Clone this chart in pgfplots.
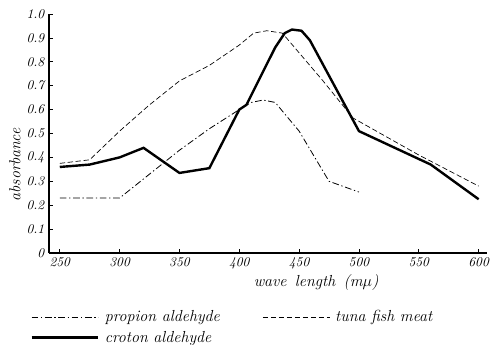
\documentclass[border=0pt]{standalone}
\usepackage{pgfplots}
\pgfplotsset{compat=1.18}
\begin{document}
\begin{tikzpicture}
\begin{axis}[
  width=328.5pt, height=179.25pt, scale only axis,
  axis lines=left, axis line style={line width=1pt,-},
  xmin=241, xmax=607, ymin=0, ymax=1.0,
  xtick={250,300,...,600},
  ytick={0,0.1,...,1.0},
  yticklabels={0,0.1,0.2,0.3,0.4,0.5,0.6,0.7,0.8,0.9,1.0},
  tick style={black, line width=0.6pt},
  tick align=inside, major tick length=3pt,
  ticklabel style={font=\itshape},
  /pgf/number format/assume math mode=true,
  xlabel={\itshape wave\, length\, (m$\mu$)},
  xlabel style={at={(axis description cs:0.61,-0.125)}, anchor=center, font=\large},
  ylabel={\itshape absorbance},
  ylabel style={at={(axis description cs:-0.078,0.368)}, anchor=center, font=\large},
  legend columns=2,
  legend style={draw=none, at={(axis description cs:-0.043,-0.228)}, anchor=north west,
    font=\itshape\large, inner sep=0pt, fill=none,
    /tikz/every even column/.append style={column sep=30pt},
    row sep=1.5pt},
  legend cell align=left,
  legend image code/.code={\draw[#1] (0pt,0pt) -- (50pt,0pt);},
]
\addplot[black, line width=0.6pt, dash pattern=on 5pt off 2pt on 1pt off 2pt] coordinates {
(250,0.23) (300,0.23) (350,0.43) (375,0.52) (400,0.60) (410,0.63) (420,0.64) (430,0.63) (450,0.51) (475,0.30) (500,0.255)};
\addlegendentry{\,propion aldehyde}
\addplot[black, line width=0.5pt, dash pattern=on 4pt off 2pt] coordinates {
(250,0.375) (275,0.39) (300,0.51) (325,0.62) (350,0.72) (375,0.785) (400,0.87) (412,0.92) (423,0.93) (436,0.92) (470,0.72) (495,0.565) (550,0.41) (600,0.28)};
\addlegendentry{\,tuna fish meat}
\addplot[black, line width=1.8pt] coordinates {
(250,0.36) (275,0.37) (300,0.40) (320,0.44) (350,0.335) (375,0.355) (400,0.60) (406,0.62) (430,0.86) (438,0.92) (444,0.935) (452,0.93) (459,0.89) (500,0.51) (560,0.37) (600,0.225)};
\addlegendentry{\,croton aldehyde}
\coordinate (bl) at (rel axis cs:0,0);
\coordinate (tr) at (rel axis cs:1,1);
\end{axis}
\pgfresetboundingbox
\path[use as bounding box] ([shift={(-36.75pt,-68.25pt)}]bl) rectangle ([shift={(4.5pt,10.5pt)}]tr);
\end{tikzpicture}
\end{document}
